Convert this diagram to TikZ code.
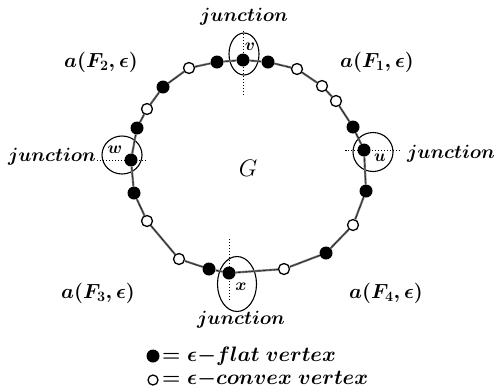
\RequirePackage{fix-cm}
\documentclass[tikz,border=0pt]{standalone}
\usetikzlibrary{shapes.geometric}
\begin{document}
\begin{tikzpicture}[x=1bp,y=-1bp,
 poly/.style={draw=black!50, line width=2.2pt, postaction={draw=black, line width=1.1pt, dash pattern=on 0.5pt off 0.7pt}},
 fv/.style={circle, fill=black, inner sep=0pt, minimum size=13bp},
 ov/.style={circle, draw=black, fill=white, line width=1.3pt, inner sep=0pt, minimum size=11bp},
 jring/.style={draw=black, line width=1.1pt, ellipse, inner sep=0pt},
 guide/.style={draw=black, line width=1pt, dash pattern=on 1.5pt off 1.5pt},
 lab/.style={font=\fontsize{20.5}{22}\selectfont\boldmath, inner sep=0pt},
 jlab/.style={font=\fontsize{19.3}{21}\selectfont\boldmath, inner sep=0pt},
 leg/.style={font=\fontsize{21}{23}\selectfont\boldmath, inner sep=0pt},
 small/.style={font=\fontsize{17}{19}\selectfont\boldmath, inner sep=0pt}]
\useasboundingbox (0,0) rectangle (497,389);
% junction rings
\node[jring, minimum width=30bp, minimum height=42bp] (rv) at (244,54) {};
\node[jring, minimum width=40bp, minimum height=39bp] (ru) at (373,152) {};
\node[jring, minimum width=39bp, minimum height=55bp] (rx) at (237,284) {};
\node[jring, minimum width=40bp, minimum height=38bp] (rw) at (122,155) {};
% vertices
\node[fv] (v) at (243,60) {};
\node[fv] (p1) at (268,62) {};
\node[ov] (p2) at (297,69) {};
\node[ov] (p3) at (322,86) {};
\node[ov] (p4) at (336,101) {};
\node[fv] (p5) at (353,127) {};
\node[fv] (u) at (364,150) {};
\node[fv] (p6) at (366,191) {};
\node[ov] (p7) at (353,225) {};
\node[fv] (p8) at (326,253) {};
\node[ov] (p9) at (284,269) {};
\node[fv] (x) at (229,273) {};
\node[fv] (p10) at (209,269) {};
\node[ov] (p11) at (179,259) {};
\node[ov] (p12) at (147,221) {};
\node[fv] (p13) at (134,193) {};
\node[fv] (w) at (131,160) {};
\node[fv] (p14) at (137,128) {};
\node[ov] (p15) at (147,109) {};
\node[fv] (p16) at (163,87) {};
\node[ov] (p17) at (189,68) {};
\node[fv] (p18) at (217,62) {};
% edges
\draw[poly] (v) -- (p1);
\draw[poly] (p1) -- (p2);
\draw[poly] (p2) -- (p3);
\draw[poly] (p3) -- (p4);
\draw[poly] (p4) -- (p5);
\draw[poly] (p5) -- (u);
\draw[poly] (u) -- (p6);
\draw[poly] (p6) -- (p7);
\draw[poly] (p7) -- (p8);
\draw[poly] (p8) -- (p9);
\draw[poly] (p9) -- (x);
\draw[poly] (x) -- (p10);
\draw[poly] (p10) -- (p11);
\draw[poly] (p11) -- (p12);
\draw[poly] (p12) -- (p13);
\draw[poly] (p13) -- (w);
\draw[poly] (w) -- (p14);
\draw[poly] (p14) -- (p15);
\draw[poly] (p15) -- (p16);
\draw[poly] (p16) -- (p17);
\draw[poly] (p17) -- (p18);
\draw[poly] (p18) -- (v);
% guide lines
\draw[guide] ([yshift=-35bp]v.center) -- ([yshift=29bp]v.center);
\draw[guide] ([xshift=-19bp]u.center) -- ([xshift=36bp]u.center);
\draw[guide] ([yshift=-27bp]x.center) -- ([yshift=34bp]x.center);
\draw[guide] ([xshift=-34bp]w.center) -- ([xshift=16bp]w.center);
% vertex names
\node[small] (lv) at (250,47) {$v$};
\node[small] (lu) at (380,158) {$u$};
\node[small] (lx) at (241,287) {$x$};
\node[small] (lw) at (115,150) {$w$};
% labels
\node[jlab] (jt) at (244,17) {$junction$};
\node[jlab] (jb) at (241,320) {$junction$};
\node[jlab, anchor=east] (jl) at (96,157) {$junction$};
\node[jlab, anchor=west] (jr) at (407,154) {$junction$};
\node[lab] (f2) at (101,62) {$a(F_2,\epsilon)$};
\node[lab] (f1) at (377,62) {$a(F_1,\epsilon)$};
\node[lab] (f3) at (98,293) {$a(F_3,\epsilon)$};
\node[lab] (f4) at (386,293) {$a(F_4,\epsilon)$};
\node[font=\fontsize{24}{26}\selectfont, inner sep=0pt] (g) at (248,168) {$G$};
% legend
\node[fv] (kf) at (153,356) {};
\node[ov, minimum size=10bp] (ko) at (153,380) {};
\node[leg, anchor=base west] (tf) at (162,361) {$=\epsilon{-}flat\ vertex$};
\node[leg, anchor=base west] (to) at (162,384) {$=\epsilon{-}convex\ vertex$};
\end{tikzpicture}
\end{document}
